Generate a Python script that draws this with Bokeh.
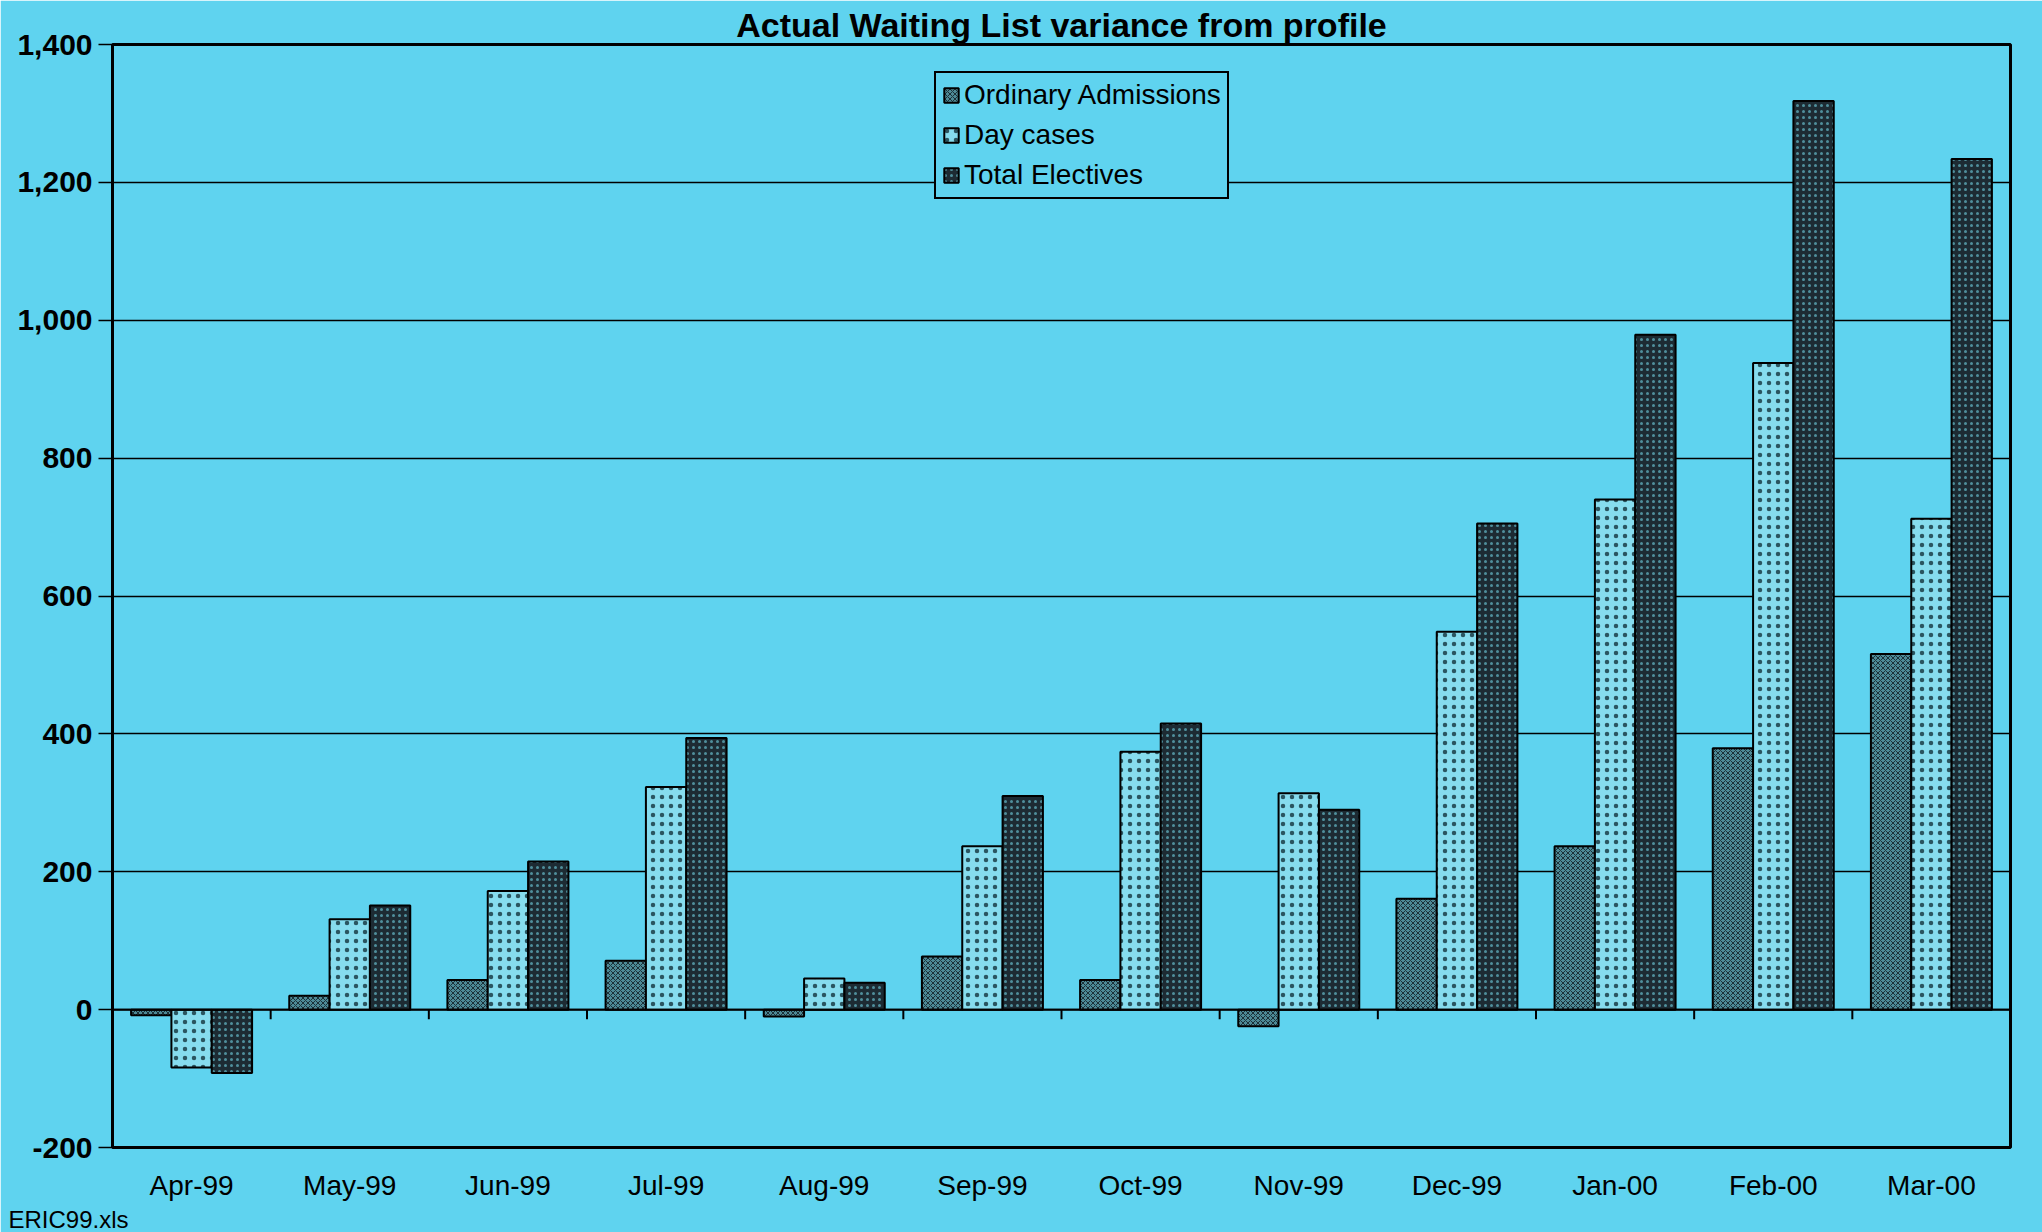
from bokeh.plotting import figure
from bokeh.models import (ColumnDataSource, FixedTicker, NumeralTickFormatter, Span,
                          Legend, LegendItem, Title)
from bokeh.embed import file_html
from bokeh.resources import INLINE

months = ["Apr-99", "May-99", "Jun-99", "Jul-99", "Aug-99", "Sep-99",
          "Oct-99", "Nov-99", "Dec-99", "Jan-00", "Feb-00", "Mar-00"]
ordinary = [-8, 20, 43, 71, -10, 77, 43, -24, 161, 237, 379, 516]
day_cases = [-84, 131, 172, 323, 45, 237, 374, 314, 548, 740, 938, 712]
total_electives = [-92, 151, 215, 394, 39, 310, 415, 290, 705, 979, 1318, 1234]
y_ticks = [-200, 0, 200, 400, 600, 800, 1000, 1200, 1400]

BG = "#5fd3ef"
W = 0.255
centers = [i + 0.5 for i in range(len(months))]

p = figure(width=2042, height=1232, output_backend="svg", toolbar_location=None,
           x_range=(0, len(months)), y_range=(-200, 1400),
           min_border_left=112, min_border_right=32, min_border_top=44,
           min_border_bottom=0)
p.background_fill_color = BG
p.border_fill_color = BG
p.outline_line_color = "black"
p.outline_line_width = 3

src = ColumnDataSource(dict(
    xo=[c - W for c in centers], xd=centers, xt=[c + W for c in centers],
    oa=ordinary, dc=day_cases, te=total_electives))

r_oa = p.vbar(x="xo", top="oa", bottom=0, width=W, source=src,
              fill_color="#4d8a96", line_color="black", line_width=2,
              hatch_pattern="diagonal_cross", hatch_color="#1c3038",
              hatch_scale=5, hatch_weight=1)
r_dc = p.vbar(x="xd", top="dc", bottom=0, width=W, source=src,
              fill_color="#86dcee", line_color="black", line_width=2,
              hatch_pattern="dot", hatch_color="#2a5560",
              hatch_scale=9, hatch_weight=1.5)
r_te = p.vbar(x="xt", top="te", bottom=0, width=W, source=src,
              fill_color="#1d2b33", line_color="black", line_width=2,
              hatch_pattern="dot", hatch_color="#4f8f9c",
              hatch_scale=6, hatch_weight=1.5)

# zero line and category boundary ticks
p.add_layout(Span(location=0, dimension="width", line_color="black", line_width=2))
bounds = list(range(1, len(months)))
p.segment(x0=bounds, x1=bounds, y0=[0] * len(bounds), y1=[-14] * len(bounds),
          line_color="black", line_width=2)

# axes
p.xgrid.visible = False
p.ygrid.ticker = FixedTicker(ticks=y_ticks)
p.ygrid.grid_line_color = "black"
p.ygrid.grid_line_width = 1.5
p.ygrid.grid_line_alpha = 1

p.yaxis.ticker = FixedTicker(ticks=y_ticks)
p.yaxis.formatter = NumeralTickFormatter(format="0,0")
p.yaxis.axis_line_color = None
p.yaxis.major_tick_out = 14
p.yaxis.major_tick_in = 0
p.yaxis.major_tick_line_color = "black"
p.yaxis.major_tick_line_width = 1.5
p.yaxis.minor_tick_line_color = None
p.yaxis.major_label_standoff = 6
p.yaxis.major_label_text_font = "Liberation Sans"
p.yaxis.major_label_text_font_size = "30px"
p.yaxis.major_label_text_font_style = "bold"
p.yaxis.major_label_text_color = "black"

p.xaxis.ticker = FixedTicker(ticks=centers)
p.xaxis.major_label_overrides = {c: m for c, m in zip(centers, months)}
p.xaxis.axis_line_color = None
p.xaxis.major_tick_line_color = None
p.xaxis.minor_tick_line_color = None
p.xaxis.major_label_standoff = 16
p.xaxis.major_label_text_font = "Liberation Sans"
p.xaxis.major_label_text_font_size = "28px"
p.xaxis.major_label_text_color = "black"

legend = Legend(items=[LegendItem(label="Ordinary Admissions", renderers=[r_oa]),
                       LegendItem(label="Day cases", renderers=[r_dc]),
                       LegendItem(label="Total Electives", renderers=[r_te])],
                location=(822, 948))
legend.background_fill_color = BG
legend.background_fill_alpha = 1
legend.border_line_color = "black"
legend.border_line_width = 2
legend.border_line_alpha = 1
legend.label_text_font = "Liberation Sans"
legend.label_text_font_size = "28px"
legend.label_text_color = "black"
legend.glyph_width = 18
legend.glyph_height = 18
legend.label_height = 32
legend.label_standoff = 4
legend.spacing = 8
legend.padding = 6
legend.margin = 0
p.add_layout(legend, "center")

p.add_layout(Title(text="Actual Waiting List variance from profile",
                   text_font="Liberation Sans", text_font_size="34px",
                   text_color="black", text_font_style="bold",
                   align="center", offset=0, standoff=2), "above")

p.add_layout(Title(text="ERIC99.xls", text_font="Liberation Sans",
                   text_font_size="24px", text_color="black",
                   text_font_style="normal", align="left", offset=-104,
                   standoff=0), "below")

html = file_html(p, INLINE)
open("out.html", "w").write(html)
